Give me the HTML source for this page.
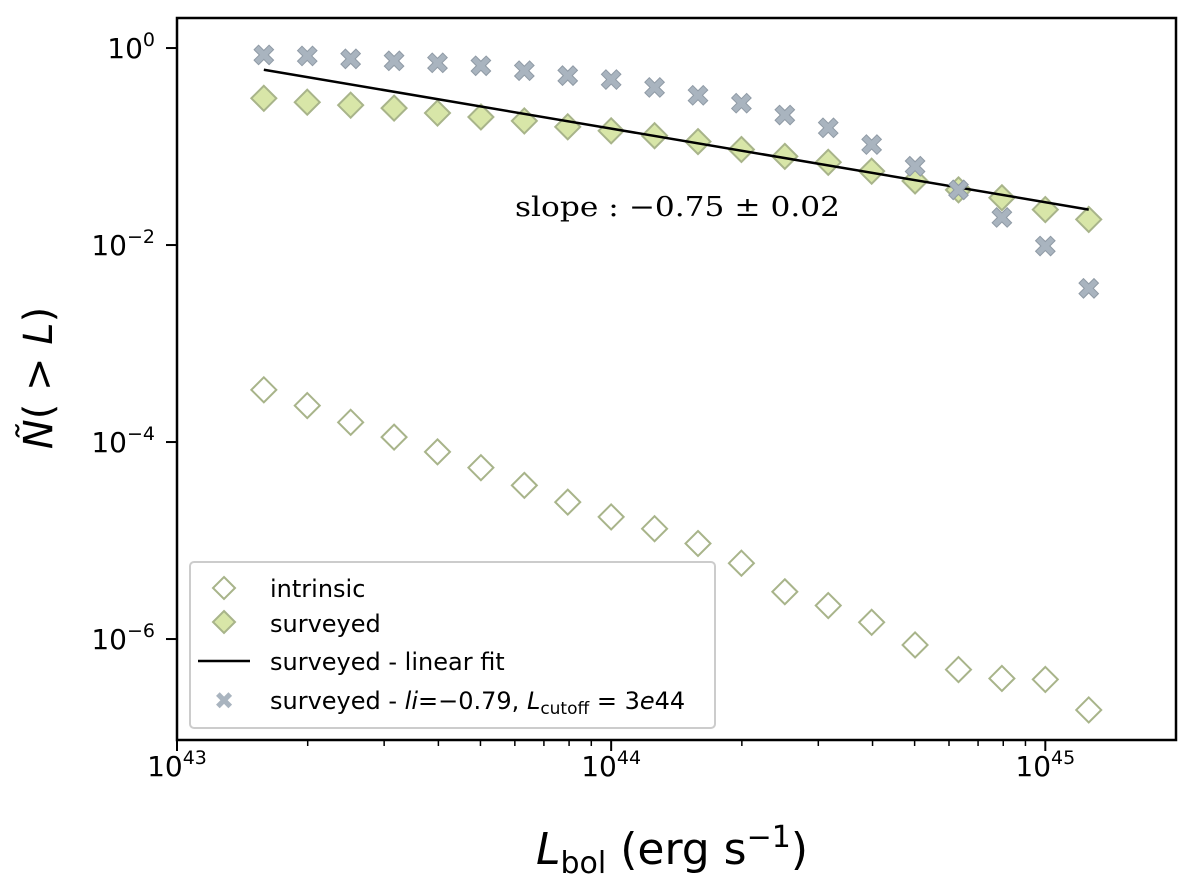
<!DOCTYPE html>
<html><head><meta charset="utf-8"><style>
body{margin:0;background:#fff}
svg text{font-family:"DejaVu Sans","Liberation Sans",sans-serif}
</style></head><body>
<svg id="chart" width="1200" height="875" viewBox="0 0 1200 875"></svg>
<script>
const xLogs=[43.2,43.3,43.4,43.5,43.6,43.7,43.8,43.9,44.0,44.1,44.2,44.3,44.4,44.5,44.6,44.7,44.8,44.9,45.0,45.1];
const intrinsicLog=[-3.47,-3.63,-3.80,-3.95,-4.10,-4.26,-4.44,-4.61,-4.76,-4.88,-5.03,-5.23,-5.52,-5.66,-5.83,-6.06,-6.31,-6.40,-6.41,-6.72];
const surveyedLog=[-0.51,-0.55,-0.58,-0.61,-0.66,-0.70,-0.74,-0.80,-0.84,-0.89,-0.95,-1.03,-1.10,-1.16,-1.25,-1.35,-1.44,-1.52,-1.64,-1.74];
const cutoffLog=[-0.07,-0.08,-0.11,-0.13,-0.15,-0.18,-0.23,-0.28,-0.32,-0.40,-0.48,-0.56,-0.68,-0.81,-0.98,-1.20,-1.44,-1.72,-2.01,-2.44];
const fitStart=[43.2,-0.22], fitEnd=[45.1,-1.64];
const xTickExp=[43,44,45];
const yTickExp=[0,-2,-4,-6];

const L=177,R=1176,T=18,B=740;
const X0=43,X1=45.301,Y0=0.305,Y1=-7.025;
const sx=v=>L+(v-X0)/(X1-X0)*(R-L);
const sy=v=>T+(Y0-v)/(Y0-Y1)*(B-T);
const svg=document.getElementById('chart');
const NS='http://www.w3.org/2000/svg';
function mk(tag,attrs,parent){const e=document.createElementNS(NS,tag);for(const k in attrs)e.setAttribute(k,attrs[k]);(parent||svg).appendChild(e);return e;}

for(let d=43;d<=45;d++)for(let m=2;m<=9;m++){const v=d+Math.log10(m);if(v>X1)continue;
 const t=mk('line',{x1:sx(v),x2:sx(v),y1:B,y2:B+6,stroke:'#000','stroke-width':1.5});
 }
xTickExp.forEach(e=>{const x=sx(e);
 const t=mk('line',{x1:x,x2:x,y1:B,y2:B+11,stroke:'#000','stroke-width':2});
 
 const tx=mk('text',{x:x,y:B+36,'font-size':28,'text-anchor':'middle'});
 
 tx.innerHTML='10<tspan dy="-12" font-size="19">'+e+'</tspan>';});
yTickExp.forEach(e=>{const y=sy(e);
 const t=mk('line',{x1:L-11,x2:L,y1:y,y2:y,stroke:'#000','stroke-width':2});
 
 const tx=mk('text',{x:L-22,y:y+10,'font-size':28,'text-anchor':'end'});
 
 tx.innerHTML='10<tspan dy="-12" font-size="19">'+(e<0?'\u2212'+(-e):e)+'</tspan>';});

function diamond(cx,cy,fill,name){const r=12.5;
 const p=mk('polygon',{points:`${cx},${cy-r} ${cx+r},${cy} ${cx},${cy+r} ${cx-r},${cy}`,fill:fill,stroke:'#a8b48a','stroke-width':2});
 }
function cross(cx,cy,name){const g=mk('g',{});
 
 const d=7.5,w=4.5;
 mk('path',{d:`M${cx-d-w/2} ${cy-d+w/2}L${cx-d+w/2} ${cy-d-w/2}L${cx} ${cy-w}L${cx+d-w/2} ${cy-d-w/2}L${cx+d+w/2} ${cy-d+w/2}L${cx+w} ${cy}L${cx+d+w/2} ${cy+d-w/2}L${cx+d-w/2} ${cy+d+w/2}L${cx} ${cy+w}L${cx-d+w/2} ${cy+d+w/2}L${cx-d-w/2} ${cy+d-w/2}L${cx-w} ${cy}Z`,fill:'#a9b4bf',stroke:'#8f9aa5','stroke-width':1},g);}

xLogs.forEach((x,i)=>diamond(sx(x),sy(intrinsicLog[i]),'#fff','intrinsic-point'));
xLogs.forEach((x,i)=>diamond(sx(x),sy(surveyedLog[i]),'#d8e6a8','surveyed-point'));
const fl=mk('line',{x1:sx(fitStart[0]),y1:sy(fitStart[1]),x2:sx(fitEnd[0]),y2:sy(fitEnd[1]),stroke:'#000','stroke-width':2.5});

xLogs.forEach((x,i)=>cross(sx(x),sy(cutoffLog[i]),'cutoff-point'));
</script>
<svg style="position:absolute;left:0;top:0" width="1200" height="875">
<rect x="177" y="18" width="999" height="722" fill="none" stroke="#000" stroke-width="2.5"/>
<text x="515" y="216" style="font-family:'DejaVu Serif','Liberation Serif',serif" font-size="27" textLength="325" lengthAdjust="spacingAndGlyphs">slope : −0.75 ± 0.02</text>
<g>
<rect x="190" y="562" width="525" height="166" rx="4" fill="#fff" stroke="#ccc" stroke-width="2"/>
<polygon points="224,577 235,588 224,599 213,588" fill="#fff" stroke="#a8b48a" stroke-width="2"/>
<text x="270" y="597" font-size="24">intrinsic</text>
<polygon points="224,611 235,622 224,633 213,622" fill="#d8e6a8" stroke="#a8b48a" stroke-width="2"/>
<text x="270" y="632" font-size="24">surveyed</text>
<line x1="198" y1="661" x2="250" y2="661" stroke="#000" stroke-width="2.5"/>
<text x="270" y="670" font-size="24">surveyed - linear fit</text>
<text x="224" y="709" font-size="24" fill="#a9b4bf" text-anchor="middle" font-weight="bold">✖</text>
<text x="270" y="709" font-size="24">surveyed - <tspan font-style="italic">li</tspan>=−0.79, <tspan font-style="italic">L</tspan><tspan font-size="17" dy="5">cutoff</tspan><tspan dy="-5"> = 3</tspan><tspan font-style="italic">e</tspan>44</text>
</g>
<text x="672" y="864" font-size="44" text-anchor="middle"><tspan font-style="italic">L</tspan><tspan font-size="30" dy="9">bol</tspan><tspan dy="-9"> (erg s</tspan><tspan font-size="30" dy="-17">−1</tspan><tspan dy="17">)</tspan></text>
<text transform="translate(52,378) rotate(-90)" font-size="40" text-anchor="middle"><tspan font-style="italic">Ñ</tspan>( &gt; <tspan font-style="italic">L</tspan>)</text>
</svg>
</body></html>
